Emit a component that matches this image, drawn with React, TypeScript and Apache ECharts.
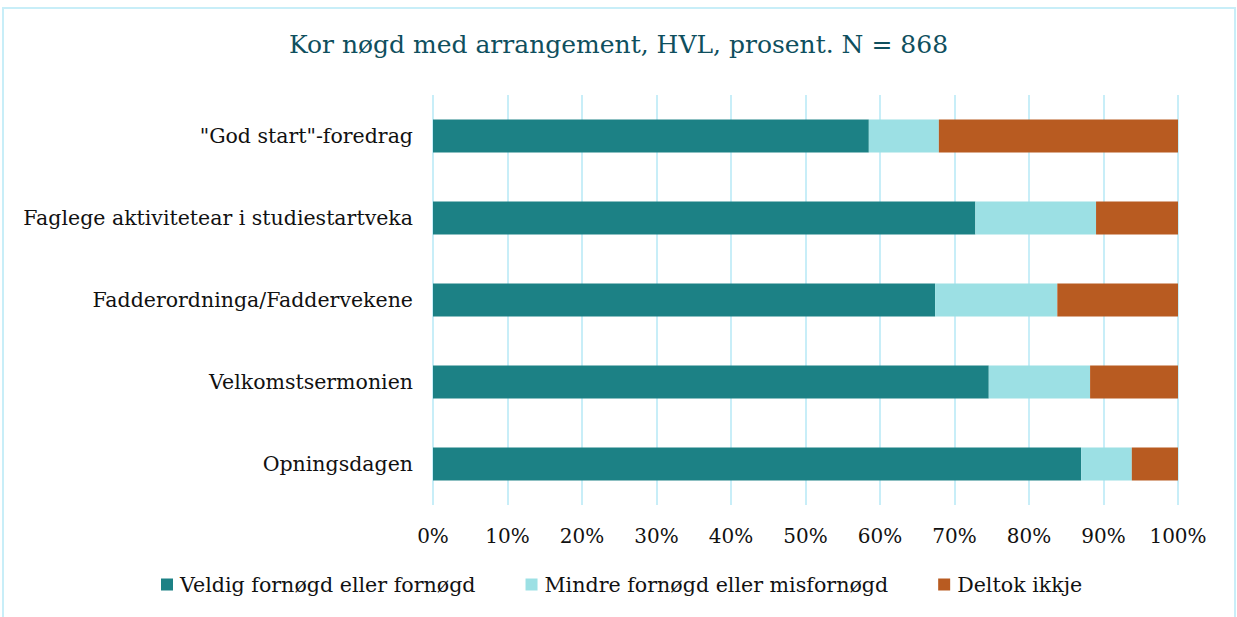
import React, { useEffect, useRef } from "react";
import * as echarts from "echarts";

const categories = [
  "Opningsdagen",
  "Velkomstsermonien",
  "Fadderordninga/Faddervekene",
  "Faglege aktivitetear i studiestartveka",
  "\"God start\"-foredrag",
];
const seriesNames = [
  "Veldig fornøgd eller fornøgd",
  "Mindre fornøgd eller misfornøgd",
  "Deltok ikkje",
];
const veldig = [87.0, 74.6, 67.4, 72.8, 58.5];
const mindre = [6.8, 13.6, 16.4, 16.2, 9.4];
const deltok = [6.2, 11.8, 16.2, 11.0, 32.1];
const colors = ["#1c8185", "#9ce0e4", "#b85b21"];
const title = "Kor nøgd med arrangement, HVL, prosent. N = 868";

const FONT = "'DejaVu Serif', 'Liberation Serif', serif";

export default function App() {
  const ref = useRef<HTMLDivElement>(null);
  useEffect(() => {
    document.body.style.margin = "0";
    const chart = echarts.init(ref.current!, undefined, { renderer: "svg" });
    const data = [veldig, mindre, deltok];
    chart.setOption({
      animation: false,
      backgroundColor: "#ffffff",
      title: {
        text: title,
        left: "center",
        top: 27,
        textStyle: { fontFamily: FONT, fontSize: 25, fontWeight: "normal", color: "#0f4f5e" },
      },
      graphic: [
        {
          type: "rect",
          shape: { x: 3, y: 8, width: 1232, height: 620 },
          style: { fill: "none", stroke: "#c8eef8", lineWidth: 2 },
          silent: true,
        },
      ],
      legend: {
        bottom: 17,
        left: 156,
        itemWidth: 12,
        itemHeight: 12,
        itemGap: 50,
        icon: "rect",
        textStyle: { fontFamily: FONT, fontSize: 20.6, color: "#111", padding: [0, 0, 0, 2] },
        data: seriesNames,
      },
      grid: { left: 433, right: 59, top: 95, bottom: 112 },
      xAxis: {
        type: "value",
        min: 0,
        max: 100,
        interval: 10,
        axisLine: { show: false },
        axisTick: { show: false },
        splitLine: { show: true, lineStyle: { color: "#c8eef8", width: 2 } },
        axisLabel: {
          formatter: "{value}%",
          fontFamily: FONT,
          fontSize: 20,
          color: "#111",
          margin: 21,
        },
      },
      yAxis: {
        type: "category",
        data: categories,
        axisLine: { show: false },
        axisTick: { show: false },
        axisLabel: { fontFamily: FONT, fontSize: 20.5, color: "#111", margin: 20 },
      },
      series: seriesNames.map((name, i) => ({
        name,
        type: "bar",
        stack: "total",
        barWidth: "40%",
        itemStyle: { color: colors[i] },
        data: data[i],
      })),
    });
    return () => chart.dispose();
  }, []);
  return <div ref={ref} style={{ width: 1237, height: 617 }} />;
}
